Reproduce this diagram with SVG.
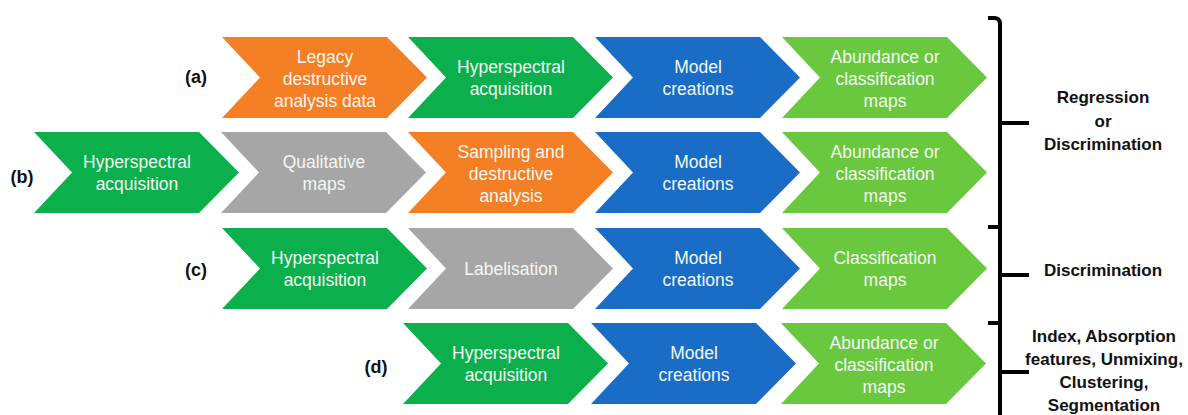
<svg xmlns="http://www.w3.org/2000/svg" xmlns:xlink="http://www.w3.org/1999/xlink" width="1188" height="415" viewBox="0 0 1188 415">
<defs>
<path id="chev" d="M0,0 H165 L205,40.5 L165,81 H0 L38,40.5 Z"/>
<style>
.or{fill:#F47F24}.gr{fill:#0BB04D}.bl{fill:#1A6DC6}.lg{fill:#6AC83E}.gy{fill:#A6A6A6}
.t{font-family:"Liberation Sans",Arial,sans-serif;font-size:17.5px;fill:#F4F7F4;text-anchor:middle}
.lab{font-family:"Liberation Sans",Arial,sans-serif;font-size:18px;font-weight:bold;fill:#111;text-anchor:middle}
.rt{font-family:"Liberation Sans",Arial,sans-serif;font-size:17px;font-weight:bold;fill:#111;text-anchor:middle}
.br{fill:none;stroke:#000;stroke-width:4;stroke-linecap:butt;stroke-linejoin:round}
</style>
</defs>
<rect width="1188" height="415" fill="#fff"/>

<!-- row a -->
<g id="a1"><use href="#chev" x="222" y="37" class="or"/><text class="t"><tspan x="325" y="62.5">Legacy</tspan><tspan x="325" y="84.5">destructive</tspan><tspan x="325" y="106.5">analysis data</tspan></text></g>
<g id="a2"><use href="#chev" x="408" y="37" class="gr"/><text class="t"><tspan x="511" y="72.5">Hyperspectral</tspan><tspan x="511" y="94.5">acquisition</tspan></text></g>
<g id="a3"><use href="#chev" x="595" y="37" class="bl"/><text class="t"><tspan x="698" y="72.5">Model</tspan><tspan x="698" y="94.5">creations</tspan></text></g>
<g id="a4"><use href="#chev" x="782" y="37" class="lg"/><text class="t"><tspan x="885" y="62.5">Abundance or</tspan><tspan x="885" y="84.5">classification</tspan><tspan x="885" y="106.5">maps</tspan></text></g>

<!-- row b -->
<g id="b1"><use href="#chev" x="34" y="132" class="gr"/><text class="t"><tspan x="137" y="168">Hyperspectral</tspan><tspan x="137" y="190">acquisition</tspan></text></g>
<g id="b2"><use href="#chev" x="221" y="132" class="gy"/><text class="t"><tspan x="324" y="168">Qualitative</tspan><tspan x="324" y="190">maps</tspan></text></g>
<g id="b3"><use href="#chev" x="408" y="132" class="or"/><text class="t"><tspan x="511" y="158">Sampling and</tspan><tspan x="511" y="180">destructive</tspan><tspan x="511" y="202">analysis</tspan></text></g>
<g id="b4"><use href="#chev" x="595" y="132" class="bl"/><text class="t"><tspan x="698" y="168">Model</tspan><tspan x="698" y="190">creations</tspan></text></g>
<g id="b5"><use href="#chev" x="782" y="132" class="lg"/><text class="t"><tspan x="885" y="158">Abundance or</tspan><tspan x="885" y="180">classification</tspan><tspan x="885" y="202">maps</tspan></text></g>

<!-- row c -->
<g id="c1"><use href="#chev" x="222" y="228" class="gr"/><text class="t"><tspan x="325" y="264">Hyperspectral</tspan><tspan x="325" y="286">acquisition</tspan></text></g>
<g id="c2"><use href="#chev" x="408" y="228" class="gy"/><text class="t" x="511" y="275">Labelisation</text></g>
<g id="c3"><use href="#chev" x="595" y="228" class="bl"/><text class="t"><tspan x="698" y="264">Model</tspan><tspan x="698" y="286">creations</tspan></text></g>
<g id="c4"><use href="#chev" x="782" y="228" class="lg"/><text class="t"><tspan x="885" y="264">Classification</tspan><tspan x="885" y="286">maps</tspan></text></g>

<!-- row d -->
<g id="d1"><use href="#chev" x="403" y="323" class="gr"/><text class="t"><tspan x="506" y="359">Hyperspectral</tspan><tspan x="506" y="381">acquisition</tspan></text></g>
<g id="d2"><use href="#chev" x="591" y="323" class="bl"/><text class="t"><tspan x="694" y="359">Model</tspan><tspan x="694" y="381">creations</tspan></text></g>
<g id="d3"><use href="#chev" x="781" y="323" class="lg"/><text class="t"><tspan x="884" y="349">Abundance or</tspan><tspan x="884" y="371">classification</tspan><tspan x="884" y="393">maps</tspan></text></g>

<!-- row labels -->
<g id="labels">
<text class="lab" x="196" y="83">(a)</text>
<text class="lab" x="22" y="183">(b)</text>
<text class="lab" x="196" y="276">(c)</text>
<text class="lab" x="376" y="373">(d)</text>
</g>

<!-- braces -->
<g id="connectors">
<path class="br" d="M988,18 H994 Q1000,18 1000,24 V415"/>
<path class="br" d="M1000,123 H1029"/>
<path class="br" d="M988,227 H1000"/>
<path class="br" d="M1000,275 H1029"/>
<path class="br" d="M988,323 H1000"/>
<path class="br" d="M1000,372 H1029"/>
</g>

<!-- right texts -->
<g id="results">
<text class="rt"><tspan x="1103" y="103">Regression</tspan><tspan x="1103" y="127">or</tspan><tspan x="1103" y="150">Discrimination</tspan></text>
<text class="rt" x="1103" y="276">Discrimination</text>
<text class="rt"><tspan x="1104" y="342">Index, Absorption</tspan><tspan x="1104" y="365">features, Unmixing,</tspan><tspan x="1104" y="388">Clustering,</tspan><tspan x="1104" y="411">Segmentation</tspan></text>
</g>
</svg>
